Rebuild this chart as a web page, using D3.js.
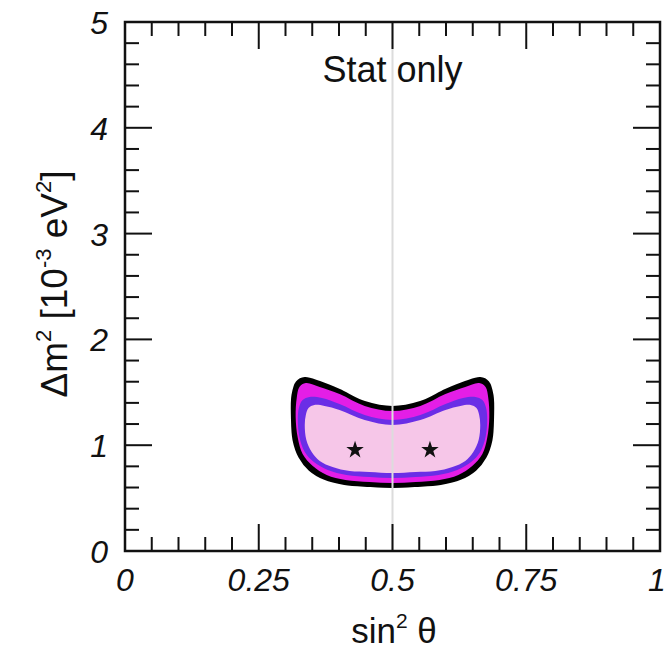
<!DOCTYPE html>
<html>
<head>
<meta charset="utf-8">
<script src="https://cdn.jsdelivr.net/npm/d3@7"></script>
<style>
  body { margin: 0; background: #fff; }
  text { font-family: "Liberation Sans", Arial, Helvetica, sans-serif; fill: #111; }
</style>
</head>
<body>
<svg id="chart" width="666" height="651"></svg>
<script>
// axis ticks
const xMajor = [0, 0.25, 0.5, 0.75, 1];
const xLabels = ["0", "0.25", "0.5", "0.75", "1"];
const yMajor = [0, 1, 2, 3, 4, 5];
const yLabels = ["0", "1", "2", "3", "4", "5"];

// allowed regions, outermost first [sin^2 theta, dm^2]
const contour99 = [[0.500,1.361],[0.448,1.408],[0.401,1.522],[0.364,1.597],[0.336,1.635],[0.321,1.597],[0.313,1.474],[0.312,1.267],[0.315,1.049],[0.326,0.888],[0.345,0.766],[0.373,0.681],[0.410,0.633],[0.457,0.614],[0.500,0.605],[0.543,0.614],[0.590,0.633],[0.627,0.681],[0.655,0.766],[0.674,0.888],[0.685,1.049],[0.688,1.267],[0.687,1.474],[0.679,1.597],[0.664,1.635],[0.636,1.597],[0.599,1.522],[0.552,1.408]];
const contour95 = [[0.500,1.323],[0.448,1.371],[0.401,1.484],[0.364,1.550],[0.338,1.588],[0.326,1.550],[0.321,1.446],[0.319,1.267],[0.323,1.068],[0.332,0.917],[0.351,0.803],[0.377,0.718],[0.412,0.671],[0.457,0.652],[0.500,0.643],[0.543,0.652],[0.588,0.671],[0.623,0.718],[0.649,0.803],[0.668,0.917],[0.677,1.068],[0.681,1.267],[0.679,1.446],[0.674,1.550],[0.662,1.588],[0.636,1.550],[0.599,1.484],[0.552,1.371]];
const contour90 = [[0.500,1.238],[0.448,1.285],[0.401,1.389],[0.368,1.446],[0.345,1.456],[0.332,1.427],[0.325,1.352],[0.323,1.238],[0.326,1.078],[0.336,0.936],[0.353,0.841],[0.379,0.766],[0.414,0.718],[0.457,0.699],[0.500,0.690],[0.543,0.699],[0.586,0.718],[0.621,0.766],[0.647,0.841],[0.664,0.936],[0.674,1.078],[0.677,1.238],[0.675,1.352],[0.668,1.427],[0.655,1.456],[0.632,1.446],[0.599,1.389],[0.552,1.285]];
const contour68 = [[0.500,1.191],[0.448,1.238],[0.401,1.333],[0.373,1.371],[0.354,1.380],[0.343,1.352],[0.338,1.285],[0.336,1.191],[0.339,1.049],[0.349,0.936],[0.364,0.851],[0.388,0.794],[0.420,0.756],[0.457,0.747],[0.500,0.737],[0.543,0.747],[0.580,0.756],[0.612,0.794],[0.636,0.851],[0.651,0.936],[0.661,1.049],[0.664,1.191],[0.662,1.285],[0.657,1.352],[0.646,1.380],[0.627,1.371],[0.599,1.333],[0.552,1.238]];
const contourColors = ["#000000", "#e41ee6", "#6a2ee6", "#f6c6e8"];

// best fit points
const bestFit = [[0.43, 0.955], [0.57, 0.955]];

const svg = d3.select("#chart");
const plotL = 125, plotR = 660, plotT = 22, plotB = 551;

const x = d3.scaleLinear().domain([0, 1]).range([plotL, plotR]);
const y = d3.scaleLinear().domain([0, 5]).range([plotB, plotT]);

svg.append("rect").attr("width", 666).attr("height", 651).attr("fill", "#fff");

// contours
const line = d3.line()
  .x(d => x(d[0]))
  .y(d => y(d[1]))
  .curve(d3.curveCatmullRomClosed);

[contour99, contour95, contour90, contour68].forEach((c, i) => {
  svg.append("path")
    .attr("d", line(c))
    .attr("fill", contourColors[i])
    .attr("stroke", i === 0 ? "#000" : "none")
    .attr("stroke-width", 2);
});

svg.selectAll("path.star")
  .data(bestFit)
  .join("path")
  .classed("star", true)
  .attr("d", d3.symbol().type(d3.symbolStar).size(95))
  .attr("transform", d => `translate(${x(d[0])},${y(d[1])})`)
  .attr("fill", "#111");

// title text
svg.append("text")
  .attr("x", x(0.5))
  .attr("y", 82)
  .attr("text-anchor", "middle")
  .style("font-size", "36px")
  .text("Stat only");

// vertical line at maximal mixing
svg.append("line")
  .attr("x1", x(0.5)).attr("x2", x(0.5))
  .attr("y1", plotT).attr("y2", plotB)
  .attr("stroke", "#dcdcdc")
  .attr("stroke-width", 2);

// ticks on all four sides, pointing in
const g = svg.append("g").attr("stroke", "#111").attr("stroke-width", 2);
const xMinor = d3.range(0, 1.0001, 0.05);
const yMinor = d3.range(0, 5.0001, 0.2);

xMinor.forEach(v => {
  const major = xMajor.some(m => Math.abs(m - v) < 1e-6);
  const len = major ? 27 : 14;
  g.append("line").attr("x1", x(v)).attr("x2", x(v)).attr("y1", plotB).attr("y2", plotB - len);
  g.append("line").attr("x1", x(v)).attr("x2", x(v)).attr("y1", plotT).attr("y2", plotT + len);
});
yMinor.forEach(v => {
  const major = yMajor.some(m => Math.abs(m - v) < 1e-6);
  const len = major ? 27 : 14;
  g.append("line").attr("y1", y(v)).attr("y2", y(v)).attr("x1", plotL).attr("x2", plotL + len);
  g.append("line").attr("y1", y(v)).attr("y2", y(v)).attr("x1", plotR).attr("x2", plotR - len);
});

svg.append("rect")
  .attr("x", plotL).attr("y", plotT)
  .attr("width", plotR - plotL).attr("height", plotB - plotT)
  .attr("fill", "none")
  .attr("stroke", "#111")
  .attr("stroke-width", 2.5);

// tick labels (last one sits at the window edge, as in the original)
svg.selectAll("text.xl")
  .data(xMajor)
  .join("text")
  .classed("xl", true)
  .attr("x", d => d === 1 ? 657 : x(d))
  .attr("y", 591)
  .attr("text-anchor", "middle")
  .style("font-size", "32px")
  .style("font-style", "italic")
  .text((d, i) => xLabels[i]);

svg.selectAll("text.yl")
  .data(yMajor)
  .join("text")
  .classed("yl", true)
  .attr("x", 108)
  .attr("y", d => y(d) + 12)
  .attr("text-anchor", "end")
  .style("font-size", "32px")
  .style("font-style", "italic")
  .text((d, i) => yLabels[i]);

// axis titles
const xt = svg.append("text")
  .attr("x", 394)
  .attr("y", 643)
  .attr("text-anchor", "middle")
  .style("font-size", "35px");
xt.append("tspan").text("sin");
xt.append("tspan").attr("dy", -15).style("font-size", "21px").text("2");
xt.append("tspan").attr("dy", 15).text(" θ");

const yt = svg.append("text")
  .attr("transform", "translate(67,284) rotate(-90)")
  .attr("text-anchor", "middle")
  .style("font-size", "37px");
yt.append("tspan").text("Δm");
yt.append("tspan").attr("dy", -16).style("font-size", "22px").text("2");
yt.append("tspan").attr("dy", 16).text(" [10");
yt.append("tspan").attr("dy", -16).style("font-size", "22px").text("-3");
yt.append("tspan").attr("dy", 16).text(" eV");
yt.append("tspan").attr("dy", -16).style("font-size", "22px").text("2");
yt.append("tspan").attr("dy", 16).text("]");
</script>
</body>
</html>
